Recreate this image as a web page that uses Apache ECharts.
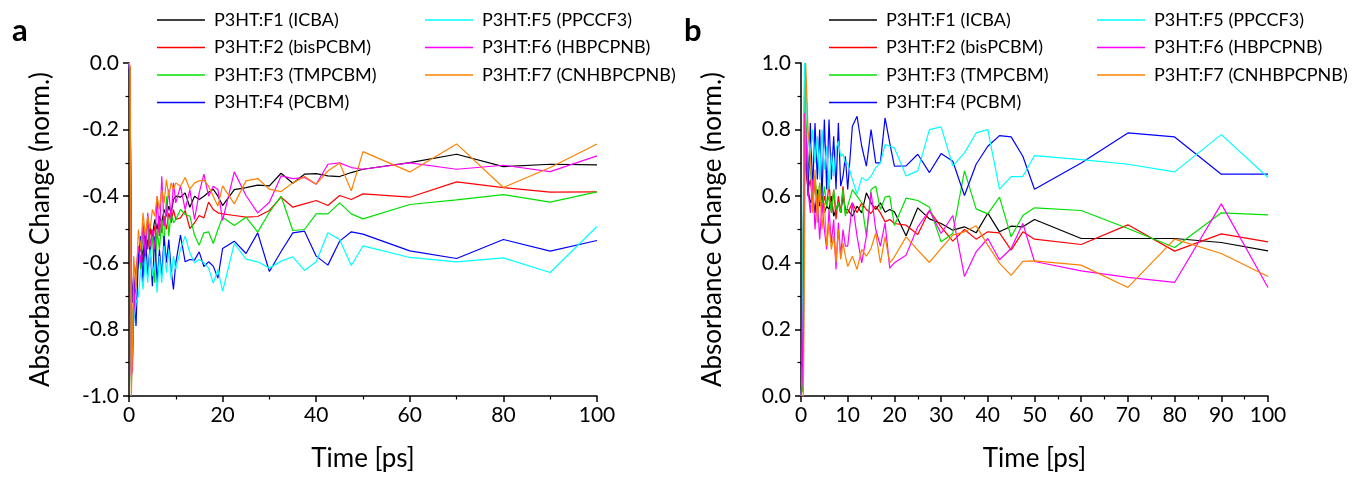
<!DOCTYPE html>
<html>
<head>
<meta charset="utf-8">
<script src="https://cdn.jsdelivr.net/npm/echarts@6/dist/echarts.min.js"></script>
<style>
html,body{margin:0;padding:0;background:#fff;}
#chart{width:1354px;height:477px;}
</style>
</head>
<body>
<div id="chart"></div>
<script>
// Time axis (ps), shared by all series
const time = [0,0.25,0.5,0.75,1,1.5,2,2.5,3,3.5,4,4.5,5,5.5,6,6.5,7,7.5,8,8.5,9,9.5,10,
  11,12,13,14,15,16,17,18,19,20,
  22.5,25,27.5,30,32.5,35,37.5,40,42.5,45,47.5,50,
  60,70,80,90,100];

const seriesNames = ['P3HT:F1 (ICBA)','P3HT:F2 (bisPCBM)','P3HT:F3 (TMPCBM)','P3HT:F4 (PCBM)',
  'P3HT:F5 (PPCCF3)','P3HT:F6 (HBPCPNB)','P3HT:F7 (CNHBPCPNB)'];
const seriesColors = ['#000000','#ff0000','#00e000','#0000ff','#00ffff','#ff00ff','#ff8000'];

// Panel a values
const a_F1 = [0,-0.02,-0.92,-0.88,-0.72,-0.66,-0.60,-0.54,-0.58,-0.50,-0.55,-0.49,-0.52,-0.47,-0.50,-0.46,-0.48,-0.44,-0.46,-0.43,-0.45,-0.41,-0.40,
  -0.403,-0.39,-0.433,-0.40,-0.41,-0.40,-0.388,-0.379,-0.40,-0.428,
  -0.38,-0.374,-0.367,-0.369,-0.331,-0.361,-0.334,-0.332,-0.339,-0.341,-0.329,-0.319,
  -0.299,-0.274,-0.311,-0.304,-0.306];
const a_F2 = [0,-0.05,-0.95,-0.85,-0.70,-0.62,-0.58,-0.55,-0.60,-0.52,-0.56,-0.50,-0.54,-0.49,-0.53,-0.47,-0.51,-0.46,-0.50,-0.45,-0.48,-0.44,-0.47,
  -0.465,-0.443,-0.497,-0.48,-0.458,-0.465,-0.418,-0.44,-0.45,-0.453,
  -0.458,-0.463,-0.461,-0.443,-0.403,-0.433,-0.423,-0.413,-0.428,-0.398,-0.41,-0.393,
  -0.403,-0.357,-0.374,-0.388,-0.387];
const a_F3 = [0,-0.03,-0.93,-0.80,-0.70,-0.66,-0.56,-0.62,-0.50,-0.60,-0.46,-0.58,-0.52,-0.66,-0.50,-0.56,-0.47,-0.55,-0.40,-0.52,-0.45,-0.48,-0.47,
  -0.44,-0.455,-0.46,-0.517,-0.547,-0.51,-0.507,-0.542,-0.50,-0.463,
  -0.488,-0.463,-0.508,-0.448,-0.40,-0.503,-0.50,-0.453,-0.453,-0.42,-0.453,-0.468,
  -0.425,-0.411,-0.395,-0.418,-0.387];
const a_F4 = [0,-0.10,-0.62,-0.72,-0.64,-0.79,-0.58,-0.52,-0.66,-0.51,-0.64,-0.55,-0.67,-0.52,-0.66,-0.56,-0.64,-0.52,-0.60,-0.53,-0.62,-0.68,-0.60,
  -0.517,-0.597,-0.59,-0.592,-0.567,-0.611,-0.597,-0.61,-0.646,-0.557,
  -0.535,-0.572,-0.51,-0.626,-0.566,-0.51,-0.505,-0.58,-0.607,-0.535,-0.507,-0.514,
  -0.564,-0.587,-0.530,-0.565,-0.533];
const a_F5 = [0,-0.04,-0.97,-0.88,-0.78,-0.72,-0.70,-0.62,-0.68,-0.58,-0.66,-0.56,-0.64,-0.60,-0.69,-0.58,-0.66,-0.55,-0.63,-0.56,-0.65,-0.58,-0.62,
  -0.56,-0.52,-0.57,-0.60,-0.59,-0.60,-0.616,-0.661,-0.62,-0.686,
  -0.542,-0.589,-0.597,-0.616,-0.595,-0.582,-0.623,-0.597,-0.51,-0.53,-0.608,-0.549,
  -0.584,-0.597,-0.585,-0.629,-0.491];
const a_F6 = [0,-0.05,-0.94,-0.92,-0.75,-0.62,-0.55,-0.60,-0.48,-0.58,-0.45,-0.55,-0.50,-0.56,-0.40,-0.52,-0.34,-0.49,-0.45,-0.38,-0.47,-0.36,-0.42,
  -0.37,-0.44,-0.38,-0.47,-0.39,-0.334,-0.40,-0.37,-0.38,-0.473,
  -0.327,-0.398,-0.45,-0.418,-0.339,-0.347,-0.344,-0.364,-0.304,-0.30,-0.314,-0.319,
  -0.30,-0.319,-0.307,-0.326,-0.279];
const a_F7 = [0,-0.01,-1.00,-0.85,-0.58,-0.68,-0.50,-0.56,-0.45,-0.52,-0.46,-0.50,-0.44,-0.46,-0.40,-0.44,-0.38,-0.42,-0.35,-0.40,-0.36,-0.38,-0.36,
  -0.37,-0.344,-0.379,-0.36,-0.354,-0.352,-0.37,-0.40,-0.43,-0.369,
  -0.423,-0.354,-0.347,-0.379,-0.386,-0.36,-0.341,-0.364,-0.324,-0.30,-0.384,-0.266,
  -0.327,-0.243,-0.374,-0.314,-0.243];

// Panel b values
const b_F1 = [0,0.03,0.50,0.85,0.75,0.62,0.58,0.60,0.55,0.62,0.57,0.60,0.55,0.57,0.56,0.60,0.54,0.56,0.58,0.55,0.60,0.56,0.56,
  0.54,0.57,0.55,0.61,0.58,0.56,0.58,0.552,0.56,0.553,
  0.481,0.565,0.532,0.518,0.498,0.508,0.49,0.549,0.493,0.51,0.508,0.53,
  0.473,0.473,0.473,0.461,0.436];
const b_F2 = [0,0.02,0.45,0.90,0.68,0.62,0.65,0.58,0.64,0.56,0.62,0.55,0.60,0.57,0.64,0.55,0.62,0.53,0.60,0.55,0.63,0.55,0.55,
  0.58,0.55,0.58,0.56,0.548,0.57,0.55,0.523,0.53,0.518,
  0.513,0.485,0.557,0.508,0.465,0.50,0.471,0.493,0.49,0.438,0.493,0.471,
  0.455,0.514,0.435,0.487,0.463];
const b_F3 = [0,0.02,0.40,0.95,0.85,0.70,0.68,0.60,0.66,0.58,0.64,0.56,0.63,0.57,0.60,0.55,0.62,0.56,0.58,0.55,0.62,0.54,0.57,
  0.62,0.60,0.58,0.48,0.62,0.63,0.56,0.597,0.60,0.512,
  0.594,0.587,0.567,0.463,0.488,0.676,0.562,0.547,0.597,0.478,0.542,0.565,
  0.557,0.503,0.446,0.55,0.544];
const b_F4 = [0.10,0.09,0.10,0.80,0.78,0.60,0.82,0.62,0.82,0.65,0.80,0.60,0.83,0.62,0.83,0.65,0.78,0.62,0.82,0.63,0.66,0.72,0.62,
  0.81,0.84,0.75,0.69,0.80,0.70,0.70,0.835,0.76,0.69,
  0.691,0.726,0.671,0.728,0.705,0.602,0.696,0.75,0.782,0.778,0.72,0.621,
  0.70,0.79,0.778,0.666,0.666];
const b_F5 = [0,0.05,0.60,1.0,0.95,0.78,0.72,0.80,0.70,0.78,0.65,0.80,0.68,0.75,0.62,0.73,0.66,0.74,0.765,0.72,0.726,0.70,0.70,
  0.65,0.607,0.656,0.646,0.66,0.686,0.70,0.755,0.75,0.745,
  0.661,0.676,0.80,0.808,0.691,0.73,0.79,0.80,0.621,0.659,0.659,0.722,
  0.71,0.696,0.673,0.785,0.656];
const b_F6 = [0,0.04,0.30,0.85,0.80,0.62,0.55,0.65,0.50,0.60,0.47,0.58,0.50,0.44,0.56,0.46,0.53,0.38,0.52,0.42,0.50,0.45,0.45,
  0.58,0.48,0.40,0.48,0.612,0.50,0.45,0.52,0.384,0.40,
  0.423,0.508,0.557,0.488,0.542,0.359,0.433,0.473,0.409,0.443,0.518,0.404,
  0.376,0.356,0.341,0.577,0.326];
const b_F7 = [0,0,0,0.40,1.0,0.80,0.72,0.55,0.68,0.52,0.64,0.50,0.58,0.45,0.52,0.44,0.48,0.40,0.50,0.41,0.46,0.42,0.389,
  0.42,0.38,0.44,0.42,0.443,0.49,0.40,0.478,0.40,0.418,
  0.478,0.438,0.401,0.443,0.483,0.493,0.511,0.453,0.399,0.362,0.404,0.406,
  0.393,0.326,0.471,0.428,0.359];

// Tick settings
const xTicksA = {min:0, max:100, interval:20};
const xTicksB = {min:0, max:100, interval:10};
const yTicksA = {min:-1, max:0, interval:0.2};
const yTicksB = {min:0, max:1, interval:0.2};

const panelA = [a_F1,a_F2,a_F3,a_F4,a_F5,a_F6,a_F7];
const panelB = [b_F1,b_F2,b_F3,b_F4,b_F5,b_F6,b_F7];

const FONT = 'Lato';

function xAxisCfg(idx, t){
  return {
    type:'value', gridIndex:idx, min:t.min, max:t.max, interval:t.interval,
    name:'Time [ps]', nameLocation:'middle', nameGap:50,
    nameTextStyle:{fontSize:26, color:'#000', fontFamily:FONT},
    axisLine:{show:true, onZero:false, lineStyle:{color:'#000', width:1.5}},
    axisTick:{show:true, inside:false, length:6, lineStyle:{color:'#000', width:1.5}},
    minorTick:{show:true, splitNumber:2, length:3.5, lineStyle:{color:'#000', width:1.2}},
    axisLabel:{fontSize:21, color:'#000', fontFamily:FONT, margin:9},
    splitLine:{show:false}
  };
}
function yAxisCfg(idx, t){
  return {
    type:'value', gridIndex:idx, min:t.min, max:t.max, interval:t.interval,
    name:'Absorbance Change (norm.)', nameLocation:'middle', nameGap:75,
    nameTextStyle:{fontSize:26, color:'#000', fontFamily:FONT},
    axisLine:{show:true, onZero:false, lineStyle:{color:'#000', width:1.5}},
    axisTick:{show:true, inside:false, length:6, lineStyle:{color:'#000', width:1.5}},
    minorTick:{show:true, splitNumber:2, length:3.5, lineStyle:{color:'#000', width:1.2}},
    axisLabel:{fontSize:21, color:'#000', fontFamily:FONT, margin:10,
      formatter: v => (Math.abs(v) < 1e-9 ? 0 : v).toFixed(1)},
    splitLine:{show:false}
  };
}

const series = [];
[panelA, panelB].forEach((panel, p) => {
  panel.forEach((vals, i) => {
    series.push({
      name: seriesNames[i], type:'line', xAxisIndex:p, yAxisIndex:p,
      data: time.map((t, k) => [t, vals[k]]),
      showSymbol:false, symbol:'none',
      lineStyle:{width:1.2, color:seriesColors[i]},
      itemStyle:{color:seriesColors[i]},
      z: 2 + i
    });
  });
});

function legendCfg(left, names){
  return {
    left:left, top:10, orient:'vertical', icon:'rect', padding:0,
    itemWidth:48, itemHeight:1.5, itemGap:7.5,
    textStyle:{fontSize:18, color:'#000', fontFamily:FONT, lineHeight:20, padding:[0,0,0,4]},
    data:names, selectedMode:false
  };
}

const option = {
  animation:false,
  backgroundColor:'#fff',
  title:[
    {text:'a', left:7, top:10, textStyle:{fontSize:31, fontWeight:'bold', color:'#000', fontFamily:FONT}},
    {text:'b', left:679, top:10, textStyle:{fontSize:31, fontWeight:'bold', color:'#000', fontFamily:FONT}}
  ],
  legend:[
    legendCfg(157, seriesNames.slice(0,4)),
    legendCfg(425, seriesNames.slice(4)),
    legendCfg(829, seriesNames.slice(0,4)),
    legendCfg(1097, seriesNames.slice(4))
  ],
  grid:[
    {left:129, top:63, width:468, height:336},
    {left:801, top:63, width:467, height:336}
  ],
  xAxis:[xAxisCfg(0, xTicksA), xAxisCfg(1, xTicksB)],
  yAxis:[yAxisCfg(0, yTicksA), yAxisCfg(1, yTicksB)],
  series: series
};

const chart = echarts.init(document.getElementById('chart'), null, {renderer:'canvas'});
chart.setOption(option);
</script>
</body>
</html>
